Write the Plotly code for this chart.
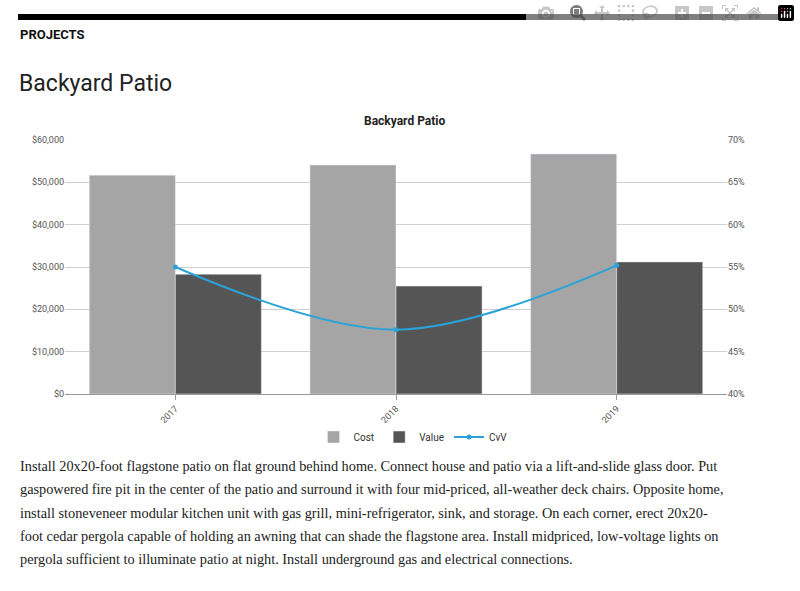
import plotly.graph_objects as go

years = ["2017", "2018", "2019"]
cost = [51700, 54100, 56700]
value = [28300, 25500, 31200]
cvv = [55.0, 47.6, 55.2]

paragraph = [
    "Install 20x20-foot flagstone patio on flat ground behind home. Connect house and patio via a lift-and-slide glass door. Put",
    "gaspowered fire pit in the center of the patio and surround it with four mid-priced, all-weather deck chairs. Opposite home,",
    "install stoneveneer modular kitchen unit with gas grill, mini-refrigerator, sink, and storage. On each corner, erect 20x20-",
    "foot cedar pergola capable of holding an awning that can shade the flagstone area. Install midpriced, low-voltage lights on",
    "pergola sufficient to illuminate patio at night. Install underground gas and electrical connections.",
]

W, H = 800, 591
L, R, T, B = 65, 727, 140, 394
cond = "Roboto, sans-serif"

# pixel -> paper coordinates of the plot area
def px(x):
    return (x - L) / (R - L)

def py(y):
    return (B - y) / (B - T)

fig = go.Figure()
fig.add_trace(go.Bar(x=years, y=cost, name="Cost", marker_color="#a5a5a5"))
fig.add_trace(go.Bar(x=years, y=value, name="Value", marker_color="#555555"))
fig.add_trace(go.Scatter(x=years, y=cvv, name="CvV", yaxis="y2", mode="lines+markers",
                         line=dict(color="#2aa3d8", width=2, shape="spline"),
                         marker=dict(size=5, color="#2aa3d8")))

anns = [
    dict(text="<b>PROJECTS</b>", x=px(18), y=py(34), font=dict(size=13, family=cond, color="#111")),
    dict(text="Backyard Patio", x=px(17), y=py(84), font=dict(size=23, family=cond, color="#222")),
    dict(text="<b>Backyard Patio</b>", x=px(404), y=py(121), xanchor="center",
         font=dict(size=12, family=cond, color="#222")),
]
for i, line in enumerate(paragraph):
    anns.append(dict(text=line, x=px(18), y=py(466 + i * 23.3),
                     font=dict(size=14.3, family="Liberation Serif, serif", color="#222")))
for a in anns:
    a.setdefault("xanchor", "left")
    a.update(xref="paper", yref="paper", yanchor="middle", showarrow=False)

fig.update_layout(
    width=W, height=H, paper_bgcolor="white", plot_bgcolor="white",
    margin=dict(l=L, r=W - R, t=T, b=H - B, autoexpand=False),
    barmode="group", bargap=0.22, bargroupgap=0.0,
    font=dict(family=cond, size=9, color="#555"),
    xaxis=dict(tickangle=-45, showline=True, linecolor="#999", automargin=False,
               ticks="outside", tickcolor="#999"),
    yaxis=dict(range=[0, 60000], dtick=10000, tickprefix="$", tickformat=",",
               gridcolor="#d0d0d0", zeroline=False, automargin=False),
    yaxis2=dict(overlaying="y", side="right", range=[40, 70], dtick=5, ticksuffix="%",
                showgrid=False, automargin=False),
    legend=dict(orientation="h", x=px(413), xanchor="center", y=py(437),
                yanchor="middle", font=dict(size=10, color="#333")),
    annotations=anns,
    shapes=[dict(type="rect", xref="paper", yref="paper", x0=px(18), x1=px(790),
                 y0=py(20), y1=py(14), fillcolor="black", line_width=0)],
)
fig.write_html("out.html", post_script="document.body.style.margin='0';document.body.style.overflow='hidden';")
